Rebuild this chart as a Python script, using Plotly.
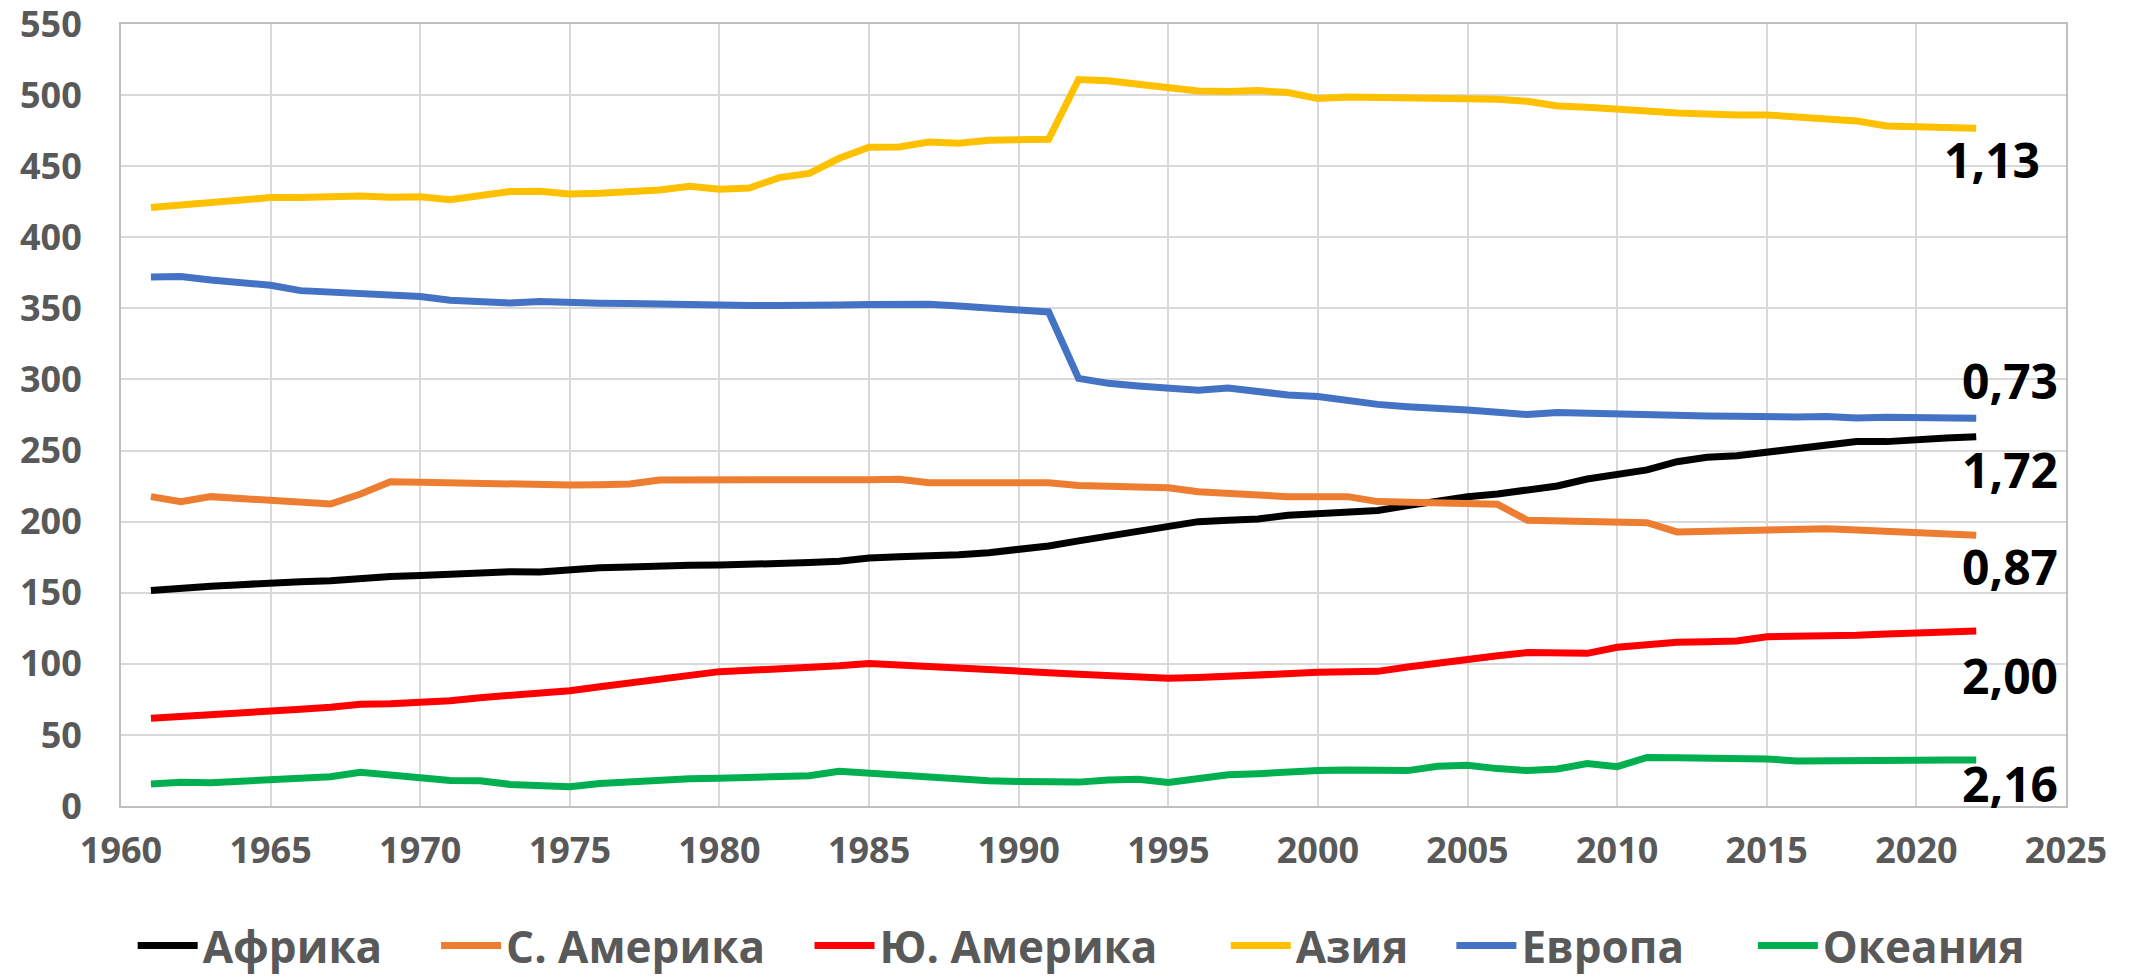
import plotly.graph_objects as go

years = list(range(1961, 2023))

africa = [151.5, 152.4, 154.5, 155.7, 157.1, 157.8, 158.5, 160.4, 161.5, 162.2,
          163.4, 164.6, 164.8, 164.6, 166.7, 167.6, 168.1, 169.3, 169.3, 169.5,
          169.7, 170.4, 171.2, 172.1, 174.4, 175.4, 175.8, 176.8, 178.2, 180.0,
          182.9, 186.5, 190.0, 192.3, 197.0, 200.0, 201.0, 201.9, 204.5, 205.4,
          206.3, 207.8, 211.3, 214.8, 217.6, 219.5, 222.3, 225.1, 230.0, 232.8,
          236.4, 242.2, 245.3, 246.4, 248.6, 251.8, 254.2, 256.3, 256.3, 258.2,
          258.9, 259.8]

n_america = [217.6, 214.1, 217.6, 216.2, 215.5, 214.5, 212.4, 219.4, 228.1, 227.7,
             227.2, 226.7, 226.2, 225.8, 225.8, 226.0, 226.5, 229.3, 229.5, 229.8,
             230.0, 229.1, 229.3, 229.5, 229.5, 229.8, 227.4, 227.4, 227.4, 227.4,
             227.4, 225.5, 224.6, 223.9, 223.9, 221.1, 219.7, 218.8, 217.6, 217.6,
             217.6, 214.1, 213.4, 212.9, 212.7, 212.2, 201.0, 200.5, 200.3, 200.0,
             199.3, 192.8, 193.2, 193.7, 194.4, 194.9, 195.1, 194.2, 193.0, 191.6,
             191.1, 190.4]

s_america = [61.7, 62.8, 63.8, 64.7, 66.1, 68.0, 69.4, 71.5, 72.0, 72.7,
             74.1, 76.2, 77.6, 79.3, 81.1, 83.9, 86.5, 89.1, 91.9, 94.5,
             95.4, 96.1, 97.1, 98.7, 100.3, 99.4, 98.5, 97.3, 96.1, 95.0,
             93.8, 92.6, 91.4, 90.5, 89.8, 90.3, 91.4, 92.4, 93.1, 94.0,
             94.5, 94.7, 97.8, 100.8, 103.6, 105.7, 107.9, 107.6, 107.4, 111.6,
             113.5, 115.1, 115.6, 116.0, 119.1, 119.1, 119.8, 120.1, 121.0, 121.9,
             122.6, 123.1]

asia = [421.0, 422.8, 424.9, 426.3, 428.0, 428.0, 429.0, 429.0, 428.2, 428.6,
        426.5, 429.6, 432.2, 432.4, 430.5, 431.0, 431.7, 433.3, 435.9, 433.8,
        434.7, 442.0, 445.0, 455.6, 463.3, 463.6, 467.1, 466.2, 468.3, 468.3,
        469.0, 511.0, 510.2, 507.7, 505.5, 503.0, 502.5, 503.2, 501.8, 497.6,
        498.7, 498.5, 497.6, 497.6, 497.8, 497.1, 495.7, 492.4, 491.5, 489.6,
        488.9, 487.5, 486.5, 486.1, 486.1, 484.9, 483.0, 481.9, 478.3, 477.9,
        477.2, 476.7]

europe = [372.1, 372.4, 370.0, 367.7, 366.3, 362.5, 361.6, 360.2, 360.2, 358.3,
          355.7, 354.8, 353.8, 354.8, 353.6, 353.6, 353.4, 352.9, 352.0, 352.0,
          352.0, 352.0, 351.7, 352.4, 352.7, 352.9, 352.9, 351.7, 349.9, 348.9,
          347.5, 300.8, 297.3, 295.4, 293.3, 292.4, 294.0, 291.0, 289.1, 288.0,
          284.9, 282.5, 280.9, 280.0, 278.6, 276.9, 275.3, 276.7, 276.2, 274.6,
          274.6, 274.8, 274.3, 274.1, 273.6, 273.6, 273.9, 273.0, 273.4, 273.0,
          273.2, 272.7]

oceania = [15.5, 16.7, 16.4, 17.6, 19.0, 20.2, 20.6, 23.7, 21.3, 19.9,
           18.0, 17.8, 15.2, 15.0, 13.6, 15.9, 17.1, 18.8, 19.2, 19.5,
           20.2, 21.8, 21.3, 24.4, 23.0, 22.3, 20.6, 18.8, 17.8, 17.3,
           17.3, 16.8, 18.3, 18.8, 16.6, 19.9, 22.0, 22.7, 24.4, 24.9,
           25.3, 25.1, 24.9, 27.9, 28.6, 26.3, 24.9, 26.0, 29.8, 27.7,
           34.2, 34.0, 33.8, 34.5, 33.1, 31.7, 32.1, 32.4, 31.9, 32.1,
           32.4, 32.4]

series_names = ["Африка", "С. Америка", "Ю. Америка", "Азия", "Европа", "Океания"]
series_values = [africa, n_america, s_america, asia, europe, oceania]
series_colors = ["#000000", "#ED7D31", "#FF0000", "#FFC000", "#4472C4", "#00B050"]

label_texts = ["1,13", "0,73", "1,72", "0,87", "2,00", "2,16"]
label_x = [2024.2, 2024.8, 2024.8, 2024.8, 2024.8, 2024.8]
label_y = [454.4, 299.0, 236.4, 168.8, 92.1, 15.5]

# legend entry left positions (paper fraction)
legend_x = [0.006, 0.162, 0.354, 0.568, 0.684, 0.839]
legend_ids = ["legend", "legend2", "legend3", "legend4", "legend5", "legend6"]

fig = go.Figure()
for name, vals, col, lid in zip(series_names, series_values, series_colors, legend_ids):
    fig.add_trace(go.Scatter(x=years, y=vals, mode="lines", name=name,
                             line=dict(color=col, width=7), legend=lid))

for t, x, y in zip(label_texts, label_x, label_y):
    fig.add_annotation(x=x, y=y, xref="x", yref="y", text=t, showarrow=False,
                       xanchor="right", yanchor="middle",
                       font=dict(family="Open Sans", size=48, color="#000000", weight="bold"))

legend_font = dict(family="Open Sans", size=44, color="#595959", weight="bold")
legend_layout = {}
for lid, lx in zip(legend_ids, legend_x):
    legend_layout[lid] = dict(x=lx, xanchor="left", y=-0.179, yanchor="middle",
                              font=legend_font, itemwidth=60,
                              bgcolor="rgba(0,0,0,0)")

tickfont = dict(family="Open Sans", size=36, color="#595959", weight="bold")
fig.update_layout(
    width=2135, height=977,
    margin=dict(l=113, r=77, t=16, b=179, autoexpand=False),
    paper_bgcolor="white", plot_bgcolor="white",
    showlegend=True,
    xaxis=dict(range=[1960, 2025], dtick=5, tick0=1960, showgrid=True,
               gridcolor="#d9d9d9", gridwidth=2, tickfont=tickfont,
               showline=True, linecolor="#bfbfbf", linewidth=2, mirror=True,
               ticks="", ticklabelstandoff=12, zeroline=False, automargin=False,
               ticklabeloverflow="allow"),
    yaxis=dict(range=[0, 550.05], tickmode="array", tickvals=list(range(0, 551, 50)),
               showgrid=True, gridcolor="#d9d9d9",
               gridwidth=2, tickfont=tickfont, showline=True, linecolor="#bfbfbf",
               linewidth=2, mirror=True, ticks="", ticklabelstandoff=30,
               zeroline=False, automargin=False, ticklabeloverflow="allow"),
    **legend_layout,
)

fig.write_html("out.html")
